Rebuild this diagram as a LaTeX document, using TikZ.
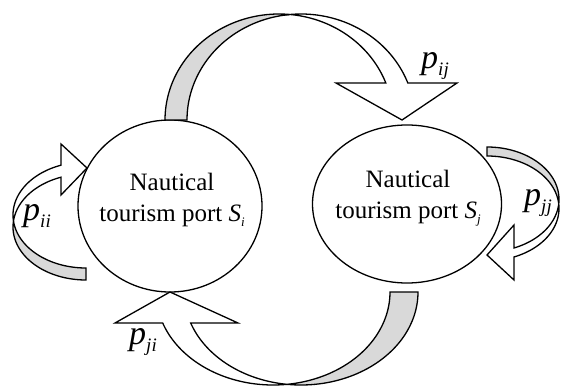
\documentclass[tikz,border=0pt]{standalone}
\usepackage{fontspec}
\setmainfont{Liberation Serif}
\usetikzlibrary{shapes.geometric}
\definecolor{bandgray}{RGB}{217,217,217}
\newcommand\psub[2]{{\fontsize{34}{34}\selectfont\itshape #1}\raisebox{-7pt}{\fontsize{19}{19}\selectfont\itshape #2}}
\newcommand\ssub[2]{{\itshape #1}\raisebox{-5pt}{\fontsize{13}{13}\selectfont\itshape #2}}
\begin{document}
\begin{tikzpicture}[x=1pt,y=-1pt,
  backface/.style={draw=black, line width=1.3pt, fill=bandgray},
  frontface/.style={draw=black, line width=1.3pt, fill=white},
  port/.style={ellipse, draw=black, line width=1.3pt, fill=white, inner sep=0pt},
  porttext/.style={align=center, inner sep=0pt, font=\fontsize{25}{31}\selectfont},
  plabel/.style={inner sep=0pt}]
\useasboundingbox (0,0) rectangle (561,387);
% ports
\node[port, minimum width=184pt, minimum height=172pt] (si) at (170,206) {};
\node[port, minimum width=189pt, minimum height=158pt] (sj) at (407,204) {};
\node[porttext] (ti) at (172,200) {Nautical\\tourism port \ssub{S}{i}};
\node[porttext] (tj) at (408,198) {Nautical\\tourism port \ssub{S}{j}};
% top arrow p_ij
\path[backface] plot[domain=180:84.46,samples=50] ({279+114*cos(\x)},{120-106*sin(\x)})
  -- plot[domain=95.54:180,samples=50] ({301+114*cos(\x)},{120-106*sin(\x)}) -- cycle;
\path[frontface] plot[domain=95.54:20.43,samples=50] ({301+114*cos(\x)},{120-106*sin(\x)})
  -- (457,83) -- (402,120) -- (336,83)
  -- plot[domain=20.43:84.46,samples=50] ({279+114*cos(\x)},{120-106*sin(\x)}) -- cycle;
% bottom arrow p_ji
\path[backface] plot[domain=0:96.87,samples=50] ({301+117*cos(\x)},{292+93*sin(\x)})
  -- plot[domain=83.13:0,samples=50] ({273+117*cos(\x)},{292+93*sin(\x)}) -- cycle;
\path[frontface] plot[domain=83.13:160.53,samples=50] ({273+117*cos(\x)},{292+93*sin(\x)})
  -- (115,323) -- (170,292) -- (238,323)
  -- plot[domain=160.53:96.87,samples=50] ({301+117*cos(\x)},{292+93*sin(\x)}) -- cycle;
% left loop p_ii
\path[backface] plot[domain=90:186.5,samples=50] ({86+73*cos(\x)},{227+53*sin(\x)})
  -- plot[domain=173.5:90,samples=50] ({86+73*cos(\x)},{215+53*sin(\x)}) -- cycle;
\path[frontface] plot[domain=173.5:250,samples=50] ({86+73*cos(\x)},{215+53*sin(\x)})
  -- (61,144) -- (87,168) -- (61,195)
  -- plot[domain=250:186.5,samples=50] ({86+73*cos(\x)},{227+53*sin(\x)}) -- cycle;
% right loop p_jj
\path[backface] plot[domain=-90:4.93,samples=50] ({487+72*cos(\x)},{199.4+52.4*sin(\x)})
  -- plot[domain=-4.93:-90,samples=50] ({487+72*cos(\x)},{208.4+52.4*sin(\x)}) -- cycle;
\path[frontface] plot[domain=-4.93:67.98,samples=50] ({487+72*cos(\x)},{208.4+52.4*sin(\x)})
  -- (514,280) -- (487,255) -- (514,225)
  -- plot[domain=67.98:4.93,samples=50] ({487+72*cos(\x)},{199.4+52.4*sin(\x)}) -- cycle;
% labels
\node[plabel] (pij) at (435,66) {\psub{p}{ij}};
\node[plabel] (pii) at (37,216) {\psub{p}{ii}};
\node[plabel] (pjj) at (538,203) {\psub{p}{jj}};
\node[plabel] (pji) at (143,342) {\psub{p}{ji}};
\end{tikzpicture}
\end{document}
